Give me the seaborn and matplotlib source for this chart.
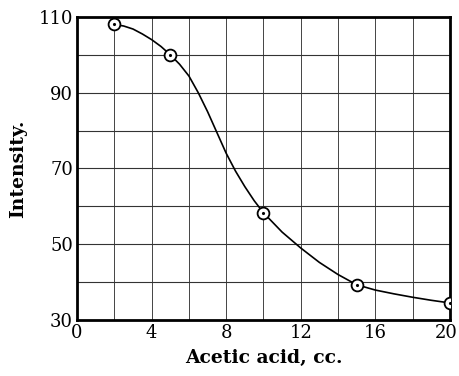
import matplotlib
matplotlib.use("Agg")
import matplotlib.pyplot as plt
from matplotlib.transforms import ScaledTranslation
import seaborn as sns
import pandas as pd

# Measured points
acid = [2, 5, 10, 15, 20]
intensity = [108, 100, 58.3, 39.3, 34.5]

# Smooth curve
curve_acid = [2, 2.5, 3, 3.5, 4, 4.5, 5, 5.5, 6, 6.5, 7, 7.5, 8, 8.5, 9, 9.5, 10, 11, 12, 13, 14, 15, 16, 17, 18, 19, 20]
curve_intensity = [108, 107.6, 106.8, 105.5, 104.0, 102.2, 100, 97.5, 94.4, 90.0, 85.0, 79.5, 74.0, 69.3, 65.2, 61.5, 58.3, 53.2, 49.0, 45.2, 42.0, 39.3, 37.9, 36.9, 36.0, 35.2, 34.5]

xticks = [0, 4, 8, 12, 16, 20]
yticks = [30, 50, 70, 90, 110]

sns.set_style("white")
plt.rcParams['font.family'] = ['DejaVu Serif']
plt.rcParams['text.color'] = 'black'
plt.rcParams['axes.labelcolor'] = 'black'
plt.rcParams['xtick.color'] = 'black'
plt.rcParams['ytick.color'] = 'black'

fig = plt.figure(figsize=(4.59, 3.76), dpi=100)
ax = fig.add_axes([0.168, 0.149, 0.812, 0.806])

pts = pd.DataFrame({"acid": acid, "intensity": intensity})
curve = pd.DataFrame({"acid": curve_acid, "intensity": curve_intensity})

for gx in range(2, 20, 2):
    ax.axvline(gx, color="#444444", lw=0.7, zorder=1)
for gy in range(40, 110, 10):
    ax.axhline(gy, color="#333333", lw=0.8, zorder=1)

sns.lineplot(data=curve, x="acid", y="intensity", ax=ax, color="black", lw=1.2, zorder=3)
ax.plot(pts["acid"], pts["intensity"], linestyle="none", marker="o", ms=8.5,
        mfc="white", mec="black", mew=1.3, zorder=4)
ax.plot(pts["acid"], pts["intensity"], linestyle="none", marker=".", ms=2.5,
        color="black", zorder=5)

ax.set_xlim(0, 20)
ax.set_ylim(30, 110)
ax.set_xticks(xticks)
ax.set_yticks(yticks)
ax.tick_params(length=0, labelsize=13, pad=3, labelcolor="black")
ax.set_xlabel("Acetic acid, cc.", fontsize=13.5, fontweight="bold", labelpad=5, color="black")
ax.set_ylabel("Intensity.", fontsize=13.5, fontweight="bold", labelpad=8, color="black")
for s in ax.spines.values():
    s.set_visible(True)
    s.set_color("black")
    s.set_linewidth(2)

last = ax.get_xticklabels()[-1]
last.set_transform(last.get_transform() + ScaledTranslation(-4 / 100, 0, fig.dpi_scale_trans))

fig.savefig("out.png", dpi=100)
